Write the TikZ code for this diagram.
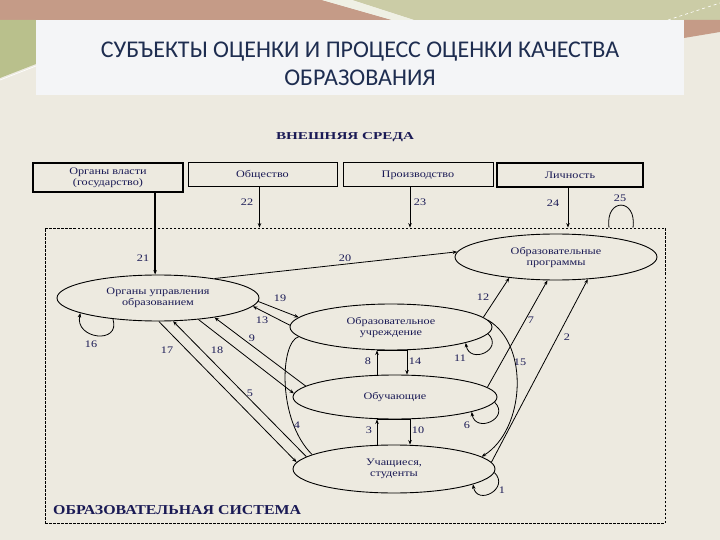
\documentclass[tikz,border=0pt]{standalone}
\usepackage{fontspec}
\setmainfont{Liberation Serif}
\newfontfamily\titlefont{Carlito}
\newfontfamily\diagfont[FakeStretch=1.22]{Liberation Serif}
\usetikzlibrary{arrows.meta,shapes.geometric,calc}
\definecolor{bgc}{HTML}{EDEAE0}
\definecolor{pinkc}{HTML}{C59B87}
\definecolor{greenc}{HTML}{CBCCA6}
\definecolor{lgreenc}{HTML}{B9C08C}
\definecolor{titlebg}{HTML}{F4F5F7}
\definecolor{titletext}{HTML}{1E2D50}
\definecolor{navy}{HTML}{1A1A55}
\begin{document}
\begin{tikzpicture}[x=1pt,y=-1pt,
  lab/.style={font=\diagfont\fontsize{10}{11}\selectfont, text=navy, inner sep=0pt},
  ell/.style={ellipse, draw, line width=0.9pt, minimum width=202pt, minimum height=46pt, inner sep=0pt, align=center, font=\diagfont\fontsize{10}{11}\selectfont, text=navy},
  envbox/.style={rectangle, draw, line width=1pt, minimum height=24pt, align=center, font=\diagfont\fontsize{10}{11}\selectfont, text=navy, inner sep=0pt},
  arr/.style={line width=0.8pt, -{Stealth[length=4.5pt,width=3.5pt]}},
  plain/.style={line width=0.8pt}]
\useasboundingbox (0,0) rectangle (720,540);
% background
\fill[bgc] (0,0) rectangle (720,540);
\fill[pinkc] (0,0) -- (322,0) -- (392,20) -- (0,20) -- cycle;
\fill[greenc] (352,0) -- (720,0) -- (720,20) -- (414,20) -- cycle;
\fill[white!70!greenc] (322,0) -- (352,0) -- (414,20) -- (392,20) -- cycle;
\fill[lgreenc] (0,20) -- (36,20) -- (36,64) -- (0,78) -- cycle;
\fill[pinkc] (684,20) -- (720,20) -- (720,32) -- (684,38) -- cycle;
\draw[white, dashed, line width=0.6pt] (668,20) -- (720,3);
\draw[white, line width=0.6pt] (0,80) -- (36,66);
% title
\fill[titlebg] (36,20) rectangle (684,95);
\node[font=\titlefont\fontsize{24}{28}\selectfont, text=titletext, align=center] (title) at (360,64) {СУБЪЕКТЫ ОЦЕНКИ И ПРОЦЕСС ОЦЕНКИ КАЧЕСТВА\\ОБРАЗОВАНИЯ};
% headings
\node[text=navy, inner sep=0pt] (env) at (345,137) {\resizebox{138pt}{7pt}{\bfseries ВНЕШНЯЯ СРЕДА}};
% outer boxes
\node[envbox, line width=1.8pt, minimum width=150pt, minimum height=29pt] (box1) at (108,177.5) {Органы власти\\(государство)};
\node[envbox, minimum width=149pt] (box2) at (262.5,175) {Общество};
\node[envbox, minimum width=150pt] (box3) at (418,175) {Производство};
\node[envbox, line width=1.4pt, minimum width=146pt] (box4) at (570,175) {Личность};
% system frame
\node[draw, line width=0.8pt, dash pattern=on 2.5pt off 1.5pt, minimum width=620pt, minimum height=295pt, inner sep=0pt] (sys) at (355,375.5) {};
\node[text=navy, inner sep=0pt, anchor=west] (systitle) at (53,510) {\resizebox{248pt}{9pt}{\bfseries ОБРАЗОВАТЕЛЬНАЯ СИСТЕМА}};
% ellipses
\node[ell] (prog) at (556,257) {Образовательные\\программы};
\node[ell] (upr) at (158,298) {Органы управления\\образованием};
\node[ell] (uchr) at (391,327) {Образовательное\\учреждение};
\node[ell, minimum width=204pt, minimum height=44pt] (obuch) at (395,397) {Обучающие};
\node[ell, minimum height=48pt] (stud) at (394,469) {Учащиеся,\\студенты};
% environment arrows
\draw[arr, line width=1.5pt] (upr.97 |- box1.south) -- (upr.97);
\draw[arr] ([xshift=-3pt]box2.south) -- ([xshift=-3pt]box2.south |- sys.north);
\draw[arr] ([xshift=-8pt]box3.south) -- ([xshift=-8pt]box3.south |- sys.north);
\draw[arr] ([xshift=-2pt]box4.south) -- ([xshift=-2pt]box4.south |- sys.north);
\draw[plain] ([xshift=254pt]sys.north) .. controls +(-4,-30) and +(4,-30) .. ([xshift=278pt]sys.north);
% connectors
\draw[arr] (upr.19) -- (prog.177);
\draw[arr] (upr.-2) -- (uchr.174);
\draw[arr] (uchr.179) -- (upr.-5);
\draw[arr] (upr.272) -- (stud.176);
\draw[arr] (stud.172) -- (upr.-57);
\draw[arr] (upr.-28) -- (obuch.178);
\draw[arr] (obuch.173) -- (upr.-19);
\draw[arr] (upr.205) .. controls +(8,26) and +(-6,26) .. (upr.191);
\draw[arr] (uchr.6) -- (prog.204);
\draw[arr] (obuch.6) -- (prog.250);
\draw[arr] (stud.4) -- (prog.325);
\draw[arr] (uchr.4) .. controls (530,345) and (525,430) .. (stud.8);
\draw[plain] (uchr.186) .. controls (280,342) and (277,420) .. (stud.170);
\draw[arr] (uchr.-4) .. controls +(16,16) and +(4,22) .. (uchr.-12);
\draw[arr] (obuch.-3) .. controls +(16,16) and +(4,22) .. (obuch.-11);
\draw[arr] (stud.-2) .. controls +(16,16) and +(4,22) .. (stud.-11);
\draw[arr] ([xshift=-18pt]obuch.north) -- ([xshift=-18pt]obuch.north |- uchr.south);
\draw[arr] ([xshift=12pt]obuch.north |- uchr.south) -- ([xshift=12pt]obuch.north);
\draw[arr] ([xshift=-17pt]stud.north) -- ([xshift=-17pt]stud.north |- obuch.south);
\draw[arr] ([xshift=16pt]stud.north |- obuch.south) -- ([xshift=16pt]stud.north);
\draw[line width=1.6pt] ([xshift=-18pt]obuch.north |- uchr.south) -- ([xshift=12pt]obuch.north |- uchr.south);
\draw[line width=1.6pt] ([xshift=-17pt]stud.north |- obuch.south) -- ([xshift=16pt]stud.north |- obuch.south);
% labels
\node[lab] (l21) at (143,258) {21};
\node[lab] (l22) at (247,202) {22};
\node[lab] (l23) at (420,202) {23};
\node[lab] (l24) at (553,203) {24};
\node[lab] (l25) at (620,198) {25};
\node[lab] (l20) at (345,258) {20};
\node[lab] (l19) at (280,298) {19};
\node[lab] (l13) at (262,320) {13};
\node[lab] (l16) at (91,344) {16};
\node[lab] (l17) at (167,350) {17};
\node[lab] (l18) at (217,350) {18};
\node[lab] (l9) at (252,338) {9};
\node[lab] (l5) at (250,393) {5};
\node[lab] (l12) at (483,297) {12};
\node[lab] (l7) at (531,320) {7};
\node[lab] (l2) at (567,337) {2};
\node[lab] (l11) at (460,358) {11};
\node[lab] (l15) at (520,362) {15};
\node[lab] (l8) at (368,361) {8};
\node[lab] (l14) at (415,361) {14};
\node[lab] (l4) at (297,425) {4};
\node[lab] (l3) at (369,430) {3};
\node[lab] (l10) at (418,430) {10};
\node[lab] (l6) at (467,425) {6};
\node[lab] (l1) at (502,490) {1};
\end{tikzpicture}
\end{document}
